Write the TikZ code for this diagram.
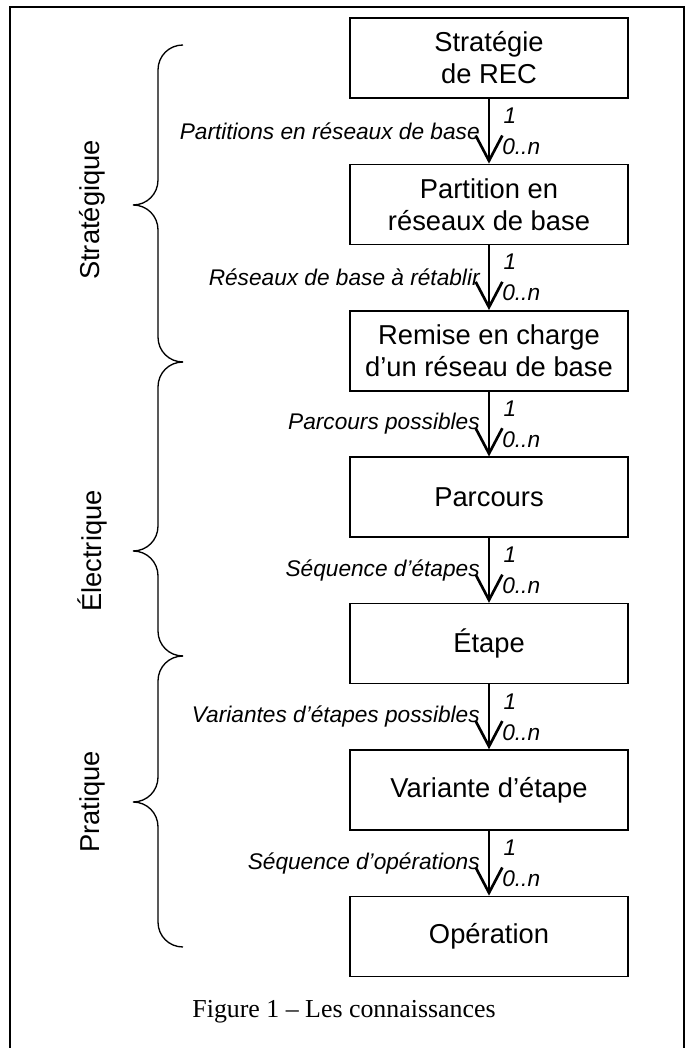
\documentclass[tikz,border=0pt]{standalone}
\usepackage{fontspec}
\setmainfont{Liberation Serif}
\setsansfont{Liberation Sans}
\usetikzlibrary{positioning}
\usetikzlibrary{arrows.meta}

\tikzset{
  box/.style={draw, line width=1.1pt, minimum width=208.5pt, minimum height=60pt,
    align=center, font=\sffamily\fontsize{20.5}{24}\selectfont},
  link/.style={line width=2pt, -{Straight Barb[length=19pt,width=20pt]}},
  lbl/.style={font=\sffamily\itshape\fontsize{17}{20}\selectfont},
  side/.style={rotate=90, font=\sffamily\fontsize{20.5}{24}\selectfont}
}

\begin{document}
\begin{tikzpicture}[x=30pt, y=30pt, every node/.style={inner sep=1pt}]
      \useasboundingbox (0,0) rectangle (17.225,26.2);
      \draw[line width=1.2pt] (0.25,-0.2) rectangle (17.1,26.025);

      \node[box] at (12.225,24.75) (strat) {Stratégie\\de REC};
      \node[box] at (12.225,21.09) (part) {Partition en\\réseaux de base};
      \node[box] at (12.225,17.43) (remise) {Remise en charge\\d’un réseau de base};
      \node[box] at (12.225,13.77) (parc) {Parcours};
      \node[box] at (12.225,10.11) (etape) {Étape};
      \node[box] at (12.225,6.45) (var) {Variante d’étape};
      \node[box] at (12.225,2.79) (op) {Opération};

      \foreach \a/\b/\txt in {strat/part/Partitions en réseaux de base,
          part/remise/Réseaux de base à rétablir,
          remise/parc/Parcours possibles,
          parc/etape/Séquence d’étapes,
          etape/var/Variantes d’étapes possibles,
          var/op/Séquence d’opérations}
      \draw[link] (\a) -- node[lbl,left=5pt] {\txt}
        node[lbl,pos=0.26,right=9pt] {1}
        node[lbl,pos=0.74,right=8pt] {0..n} (\b);

      % accolades
      \foreach \t/\m/\b in {25.075/21.075/17.15, 17.15/12.425/9.8, 9.8/6.15/2.525}
      \draw[line width=1pt] (4.575,\t) .. controls (4.225,\t) and (3.95,\t-0.275) .. (3.95,\t-0.625)
        -- (3.95,\m+0.625) .. controls (3.95,\m+0.275) and (3.675,\m) .. (3.325,\m)
        .. controls (3.675,\m) and (3.95,\m-0.275) .. (3.95,\m-0.625)
        -- (3.95,\b+0.625) .. controls (3.95,\b+0.275) and (4.225,\b) .. (4.575,\b);

      \node[side] at (2.3,20.95) (lstrat) {Stratégique};
      \node[side] at (2.3,12.425) (lelec) {Électrique};
      \node[side] at (2.3,6.15) (lprat) {Pratique};

      \node[font=\fontsize{19.4}{23}\selectfont] at (8.6,0.9) (cap) {Figure 1 – Les connaissances};
    \end{tikzpicture}
\end{document}
